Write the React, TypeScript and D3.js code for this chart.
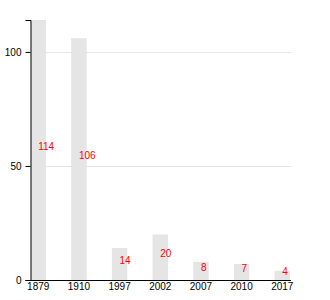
import React, { useEffect, useRef } from "react";
import * as d3 from "d3";

const years = ["1879", "1910", "1997", "2002", "2007", "2010", "2017"];
const values = [114, 106, 14, 20, 8, 7, 4];
const yTicks = [0, 50, 100];

export default function App() {
  const ref = useRef<SVGSVGElement>(null);
  useEffect(() => {
    const svg = d3.select(ref.current);
    svg.selectAll("*").remove();
    const left = 30.5, right = 291, top = 20, bottom = 280;
    const x = d3.scaleBand<string>().domain(years).range([left, right - 1]).paddingInner(0.62).paddingOuter(0);
    const y = d3.scaleLinear().domain([0, 114]).range([bottom, top]);
    const font = "'Liberation Sans', Arial, sans-serif";

    // gridlines
    svg.append("g").selectAll("line").data(yTicks.filter(t => t > 0)).join("line")
      .attr("x1", left).attr("x2", right)
      .attr("y1", d => Math.round(y(d)) + 0.5).attr("y2", d => Math.round(y(d)) + 0.5)
      .attr("stroke", "#e5e5e5").attr("stroke-width", 1);

    // bars
    svg.append("g").selectAll("rect").data(values).join("rect")
      .attr("x", (_, i) => x(years[i])!)
      .attr("width", x.bandwidth())
      .attr("y", d => y(d))
      .attr("height", d => bottom - y(d))
      .attr("fill", "#e5e5e5");

    // labels
    svg.append("g").selectAll("text").data(values).join("text")
      .attr("x", (_, i) => x(years[i])! + x.bandwidth() / 2)
      .attr("y", d => y(d / 2))
      .attr("fill", "#ff0000")
      .attr("font-family", font)
      .attr("font-size", 10)
      .text(d => String(d));

    // y axis
    const ya = svg.append("g").attr("transform", `translate(${left},0)`)
      .call(d3.axisLeft(y).tickValues(yTicks).tickSizeOuter(0).tickSize(5).tickPadding(4));
    ya.select(".domain").attr("stroke", "#000");
    ya.selectAll("text").attr("font-family", font).attr("font-size", 10).attr("fill", "#000");

    // x axis
    const xa = svg.append("g").attr("transform", `translate(0,${bottom})`)
      .call(d3.axisBottom(x).tickSize(0).tickSizeOuter(0).tickPadding(3));
    xa.select(".domain").attr("stroke", "#000").attr("d", `M${left},0.5H${right}`);
    xa.selectAll("text").attr("font-family", font).attr("font-size", 10).attr("fill", "#000");
  }, []);
  return (
    <svg ref={ref} width={330} height={300}
      style={{ position: "absolute", left: 0, top: 0, background: "#fff" }} />
  );
}
